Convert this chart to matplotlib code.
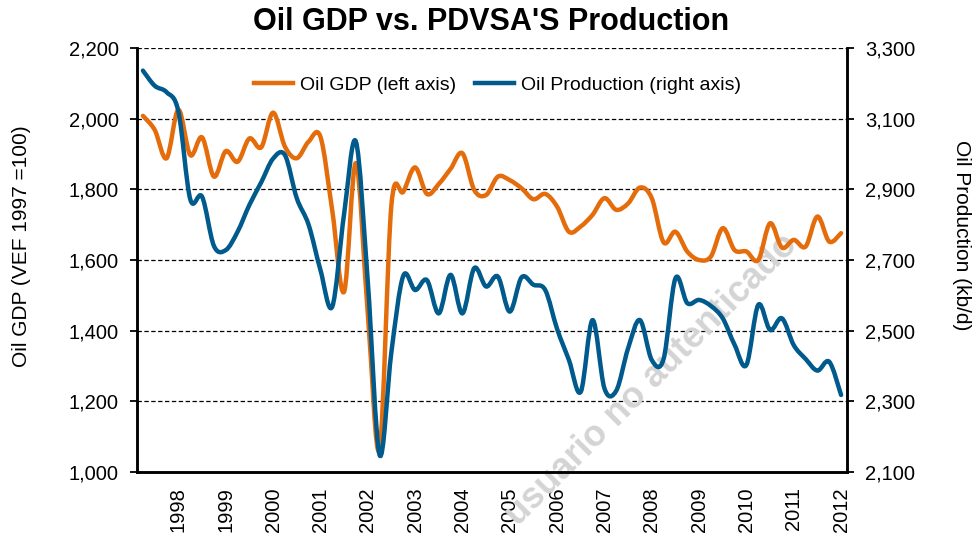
import numpy as np
import matplotlib
matplotlib.use('Agg')
import matplotlib.pyplot as plt
from matplotlib.path import Path
from matplotlib.patches import PathPatch
from matplotlib.lines import Line2D
from matplotlib.ticker import FuncFormatter

plt.rcParams['font.family'] = ['Liberation Sans', 'DejaVu Sans']

# quarterly observations, 1997Q2 .. 2012Q1
years = [1998, 1999, 2000, 2001, 2002, 2003, 2004, 2005,
         2006, 2007, 2008, 2009, 2010, 2011, 2012]

oil_gdp = [2008, 1968, 1888, 2025, 1897, 1947, 1836, 1908, 1878, 1944,
           1919, 2017, 1921, 1888, 1935, 1949, 1740, 1510, 1874, 1450,
           1065, 1756, 1793, 1862, 1787, 1815, 1858, 1902, 1798, 1784,
           1836, 1826, 1803, 1772, 1787, 1751, 1680, 1695, 1728, 1775,
           1742, 1760, 1805, 1775, 1650, 1680, 1624, 1600, 1610, 1690,
           1628, 1624, 1600, 1704, 1635, 1657, 1638, 1723, 1652, 1676]

oil_prod = [3236, 3193, 3175, 3120, 2872, 2879, 2740, 2728, 2780, 2856,
            2920, 2987, 2997, 2875, 2800, 2672, 2568, 2830, 3035, 2640,
            2148, 2440, 2655, 2615, 2643, 2549, 2658, 2549, 2677, 2625,
            2653, 2554, 2651, 2630, 2615, 2505, 2417, 2327, 2530, 2337,
            2330, 2450, 2530, 2417, 2420, 2648, 2578, 2587, 2570, 2535,
            2460, 2403, 2573, 2502, 2535, 2459, 2420, 2387, 2412, 2318]

x = 1997.25 + 0.25 * np.arange(len(oil_gdp))

ORANGE = '#E46C0A'
BLUE = '#005A8C'


def smooth_path(xs, ys):
    # excel-style smoothed line: catmull-rom through the points as bezier segments
    pts = np.column_stack([xs, ys]).astype(float)
    n = len(pts)
    verts = [pts[0]]
    codes = [Path.MOVETO]
    for i in range(n - 1):
        p0 = pts[max(i - 1, 0)]
        p1 = pts[i]
        p2 = pts[i + 1]
        p3 = pts[min(i + 2, n - 1)]
        verts += [p1 + (p2 - p0) / 6, p2 - (p3 - p1) / 6, p2]
        codes += [Path.CURVE4] * 3
    return Path(verts, codes)


fig = plt.figure(figsize=(9.75, 5.35), dpi=100)
ax = fig.add_axes([137 / 975, 1 - 472 / 535, 710 / 975, 424 / 535])
ax2 = ax.twinx()

ax.set_xlim(1997.125, 2012.125)
ax.set_ylim(1000, 2200)
ax2.set_ylim(2100, 3300)
ax.set_yticks(np.arange(1000, 2201, 200))
ax2.set_yticks(np.arange(2100, 3301, 200))
ax.set_xticks(years)
ax.set_xticklabels([str(y) for y in years], rotation=90, fontsize=14.5)

fmt = FuncFormatter(lambda v, p: f'{v:,.0f}')
ax.yaxis.set_major_formatter(fmt)
ax2.yaxis.set_major_formatter(fmt)

ax.set_axisbelow(True)
ax.yaxis.grid(True, color='black', lw=0.9, ls=(0, (3.5, 2)))

for a in (ax, ax2):
    a.spines['top'].set_visible(False)
    for s in ('left', 'right', 'bottom'):
        a.spines[s].set_linewidth(1.8)
ax.tick_params(axis='y', labelsize=14.5, length=5, width=1.3, pad=8)
ax2.tick_params(axis='y', labelsize=14.5, length=5, width=1.3, pad=8)
ax.tick_params(axis='x', length=0, pad=11)

ax.add_patch(PathPatch(smooth_path(x, oil_gdp), fill=False, edgecolor=ORANGE,
                       lw=3.2, capstyle='round', joinstyle='round', zorder=3))
ax2.add_patch(PathPatch(smooth_path(x, oil_prod), fill=False, edgecolor=BLUE,
                        lw=3.2, capstyle='round', joinstyle='round', zorder=3))

# watermark
ax.text(652 / 975, 1 - 380 / 535, 'usuario no autenticado', transform=fig.transFigure,
        rotation=45, rotation_mode='anchor', ha='center', va='center',
        fontsize=26, fontweight='bold', color='#d4d4d4', zorder=1.5, clip_on=False)

handles = [Line2D([], [], color=ORANGE, lw=3.2),
           Line2D([], [], color=BLUE, lw=3.2)]
ax2.legend(handles, ['Oil GDP (left axis)', 'Oil Production (right axis)'],
           loc='center', bbox_to_anchor=(0.508, 0.912), ncol=2, frameon=False,
           fontsize=14, handlelength=2.0, handletextpad=0.35, columnspacing=1.0)

fig.text(0.504, 1 - 22 / 535, "Oil GDP vs. PDVSA'S Production", ha='center', va='center',
         fontsize=22, fontweight='bold')
fig.text(22 / 975, 1 - 246 / 535, 'Oil GDP (VEF 1997 =100)', rotation=90,
         ha='center', va='center', fontsize=15)
fig.text(961 / 975, 1 - 235 / 535, 'Oil Production (kb/d)', rotation=270,
         ha='center', va='center', fontsize=15)

fig.savefig('out.png', dpi=100)
